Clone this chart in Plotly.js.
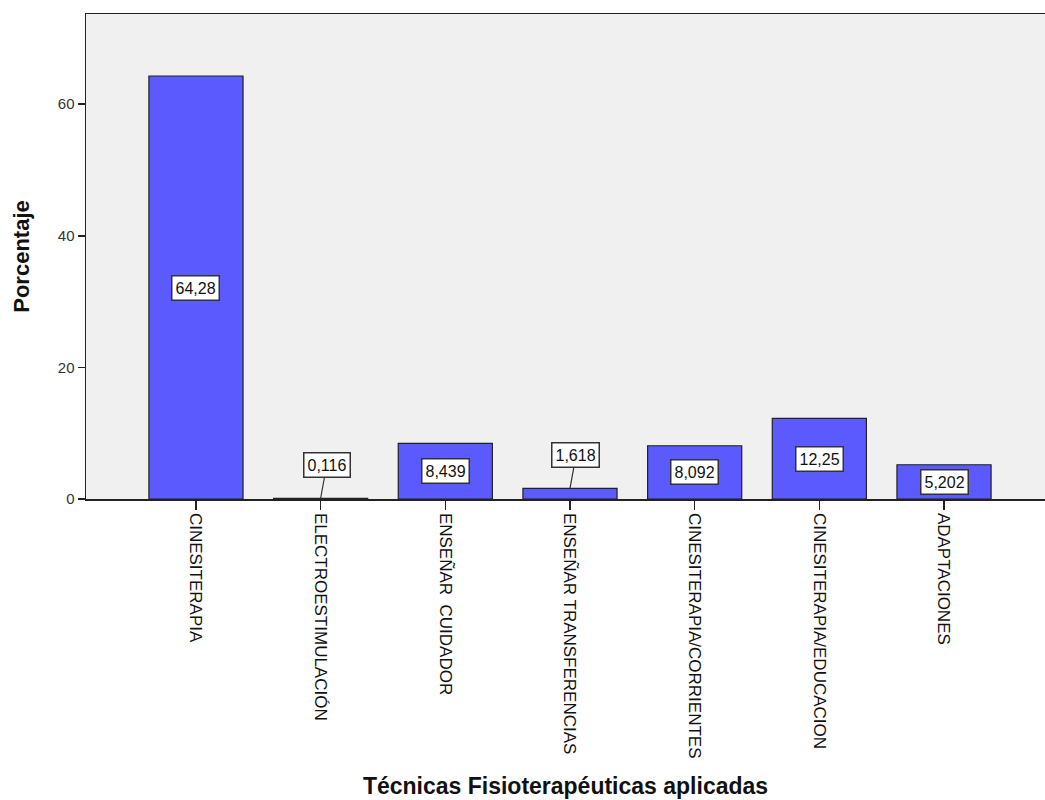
<!DOCTYPE html>
<html>
<head>
<meta charset="utf-8">
<script src="https://cdn.plot.ly/plotly-3.0.1.min.js"></script>
<style>html,body{margin:0;padding:0;background:#fff;}#chart{width:1045px;height:800px;}</style>
</head>
<body>
<div id="chart"></div>
<script>
const categories = ["CINESITERAPIA", "ELECTROESTIMULACIÓN", "ENSEÑAR  CUIDADOR", "ENSEÑAR TRANSFERENCIAS", "CINESITERAPIA/CORRIENTES", "CINESITERAPIA/EDUCACION", "ADAPTACIONES"];
const percentages = [64.28, 0.116, 8.439, 1.618, 8.092, 12.25, 5.202];
const yTicks = [0, 20, 40, 60];

const fontFam = "Arial, 'Liberation Sans', sans-serif";
const labelText = percentages.map(v => String(v).replace('.', ','));

const annotations = percentages.map((v, i) => {
  const small = v < 3;
  return {
    x: categories[i],
    y: small ? v : v / 2,
    xref: 'x', yref: 'y',
    text: labelText[i],
    showarrow: small,
    arrowhead: 0,
    arrowwidth: 1.2,
    arrowcolor: '#333',
    ax: small ? 6 : 0,
    ay: small ? -33 : 0,
    bgcolor: '#ffffff',
    bordercolor: '#333',
    borderwidth: 1.5,
    borderpad: 3,
    font: {family: fontFam, size: 16, color: '#111'}
  };
});

const trace = {
  type: 'bar',
  x: categories,
  y: percentages,
  width: 0.755,
  marker: {color: '#5A5AFF', line: {color: '#222', width: 1.2}},
  hoverinfo: 'x+y'
};

const layout = {
  width: 1045, height: 800,
  margin: {l: 86, r: 0, t: 14, b: 301},
  paper_bgcolor: '#ffffff',
  plot_bgcolor: '#F0F0F0',
  showlegend: false,
  font: {family: fontFam, color: '#222'},
  xaxis: {
    type: 'category',
    range: [-0.882, 6.81],
    showline: true, linecolor: '#222', linewidth: 1.5, mirror: true,
    ticks: 'outside', ticklen: 9, tickcolor: '#222', tickwidth: 1.5,
    tickangle: 90,
    tickfont: {family: fontFam, size: 17, color: '#111'},
    showgrid: false, zeroline: false,
    automargin: false,
    title: {text: 'Técnicas Fisioterapéuticas aplicadas', font: {family: fontFam, size: 23, color: '#111', weight: 'bold'}, standoff: 20}
  },
  yaxis: {
    range: [0, 73.7],
    tickvals: yTicks,
    showline: true, linecolor: '#222', linewidth: 1.5, mirror: false,
    ticks: 'outside', ticklen: 7, tickcolor: '#222', tickwidth: 1.5,
    tickfont: {family: fontFam, size: 15, color: '#333'},
    showgrid: false, zeroline: false,
    automargin: false,
    title: {text: 'Porcentaje', font: {family: fontFam, size: 22, color: '#111', weight: 'bold'}, standoff: 22}
  },
  annotations: annotations
};

Plotly.newPlot('chart', [trace], layout, {displayModeBar: false, staticPlot: true});
</script>
</body>
</html>
